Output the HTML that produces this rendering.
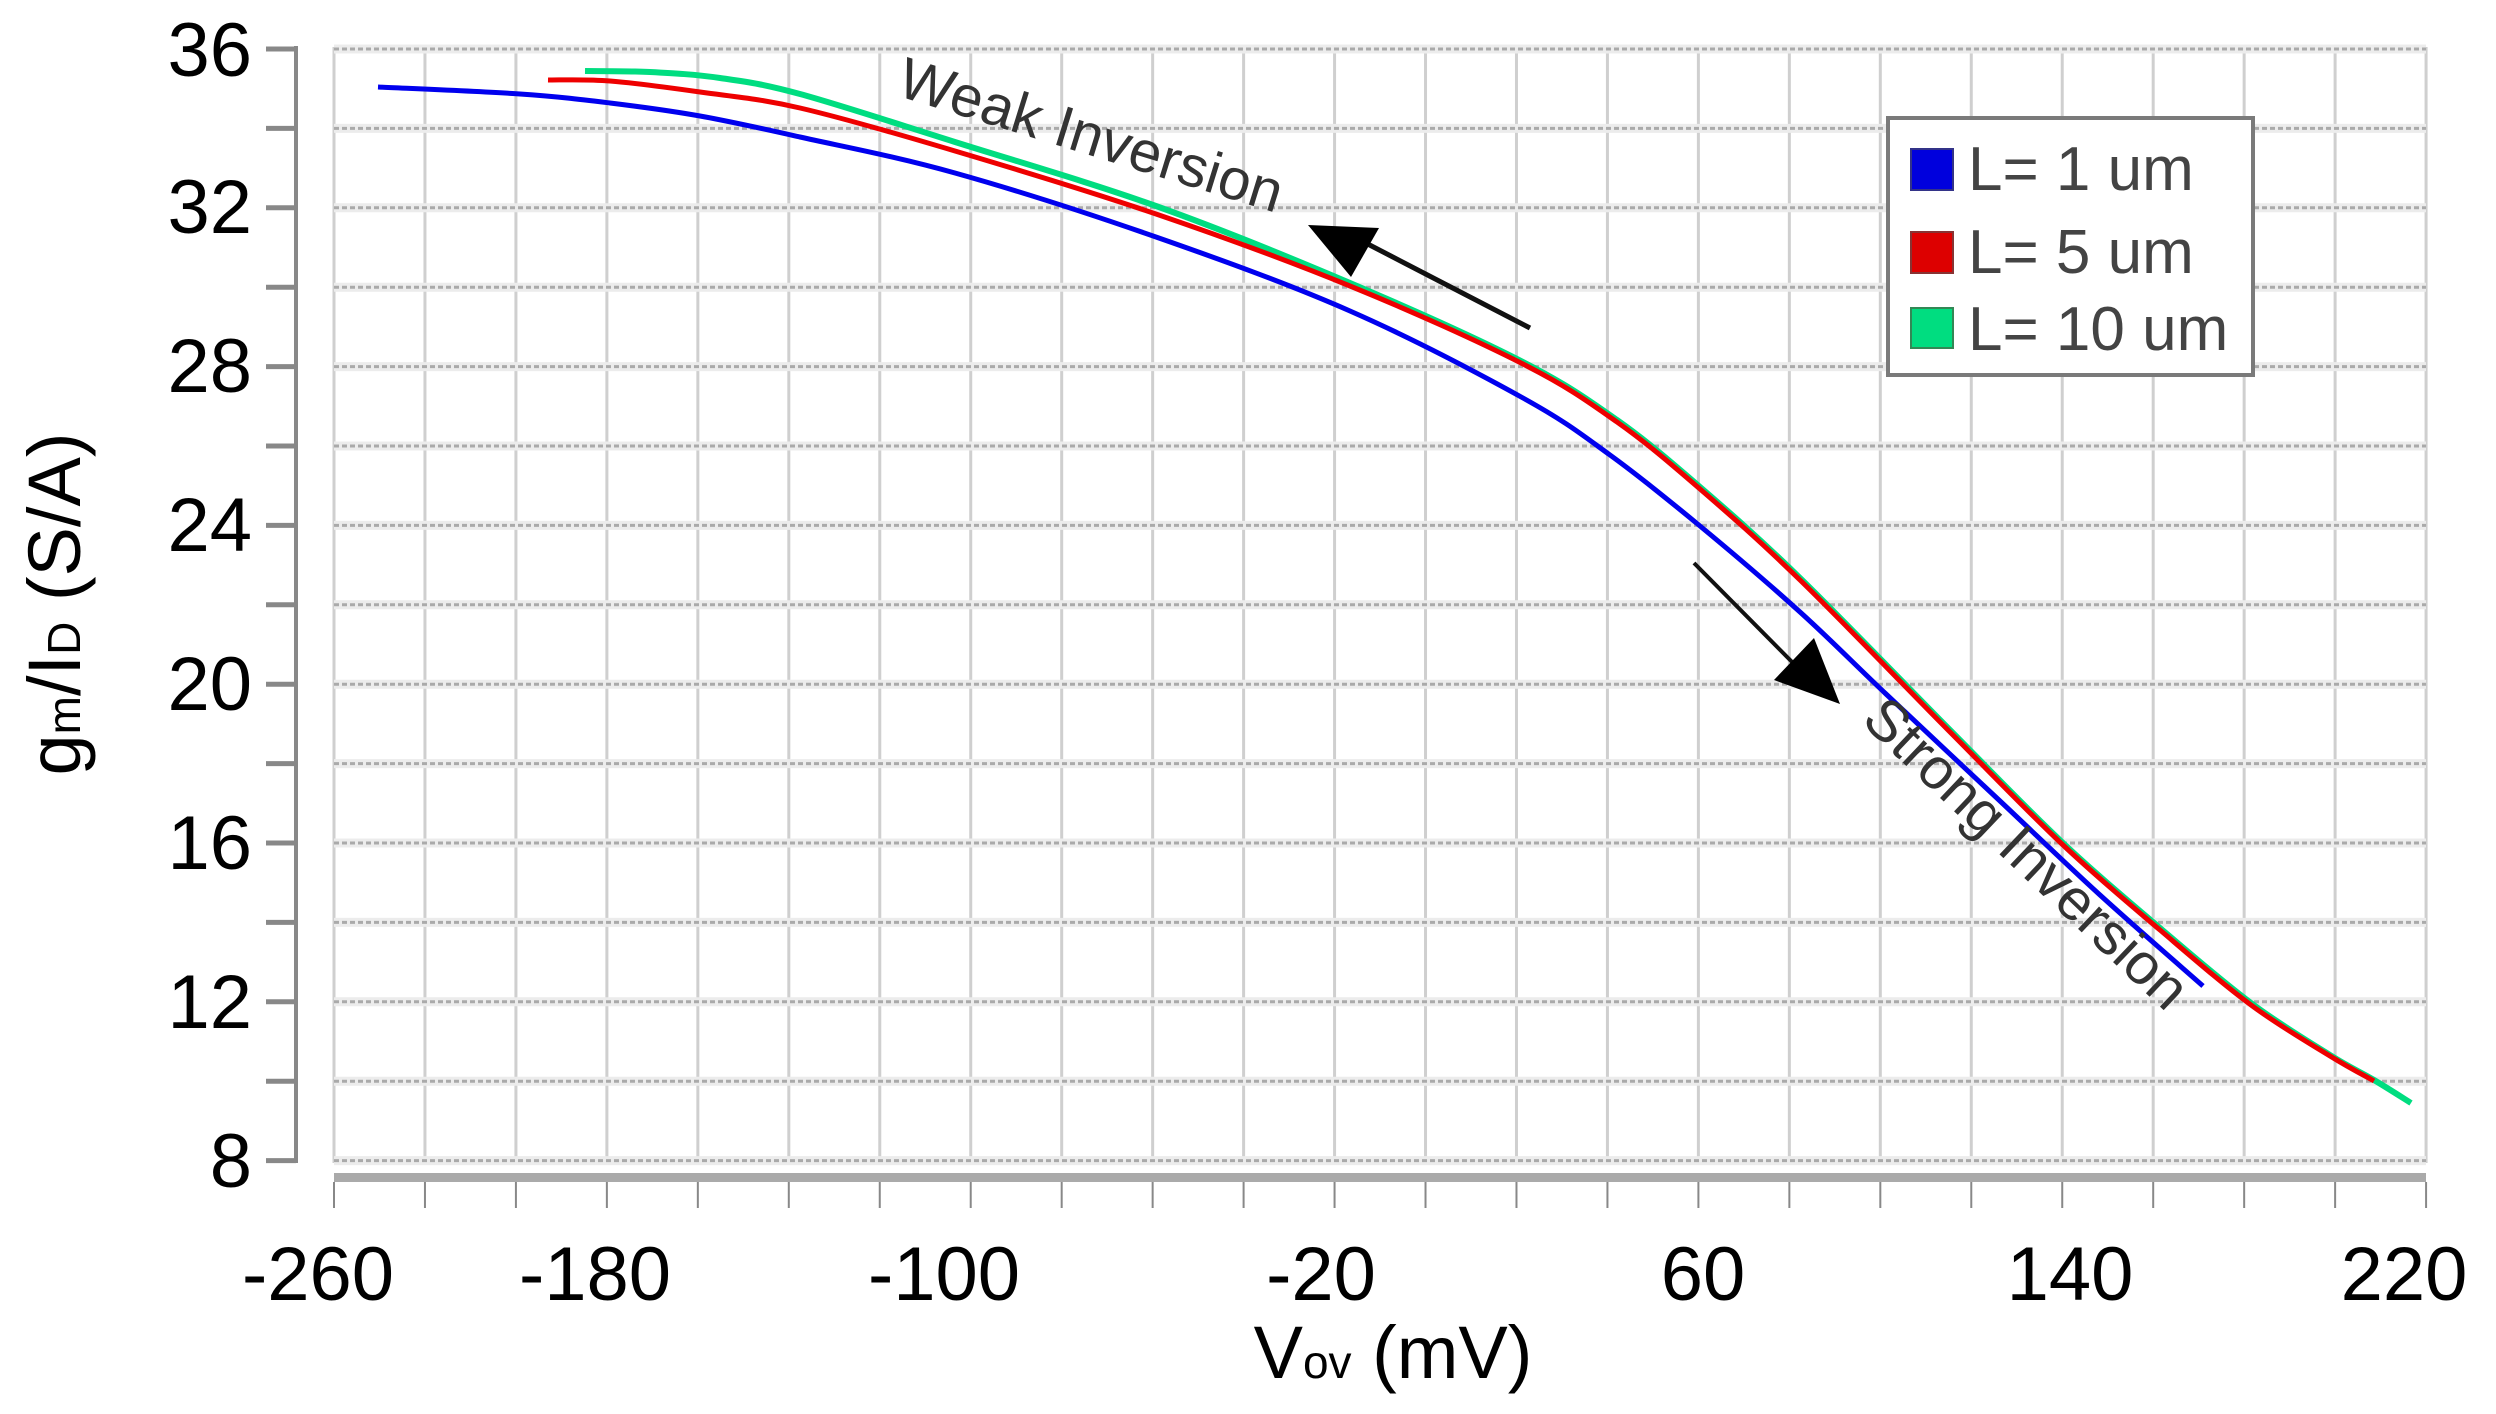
<!DOCTYPE html>
<html><head><meta charset="utf-8"><style>
html,body{margin:0;padding:0;background:#fff;}
svg{display:block;font-family:"Liberation Sans",sans-serif;}
</style></head><body>
<svg id="s" width="2496" height="1414" viewBox="0 0 2496 1414" xmlns="http://www.w3.org/2000/svg">
<rect width="2496" height="1414" fill="#fff"/>
<g id="grid"></g>
<g id="curves" fill="none" stroke-linecap="butt" stroke-linejoin="round"></g>
<line x1="296" y1="46" x2="296" y2="1163" stroke="#888" stroke-width="4"/>
<g id="yt" stroke="#888" stroke-width="5"></g>
<g font-size="76" text-anchor="end" fill="#000">
<text x="252" y="76">36</text><text x="252" y="233">32</text><text x="252" y="392">28</text>
<text x="252" y="551">24</text><text x="252" y="710">20</text><text x="252" y="869">16</text>
<text x="252" y="1028">12</text><text x="252" y="1187">8</text>
</g>
<rect x="334" y="1173" width="2092" height="9" fill="#aaa"/>
<g id="xt" stroke="#888" stroke-width="2"></g>
<g font-size="76" text-anchor="middle" fill="#000">
<text x="318" y="1300">-260</text><text x="595" y="1300">-180</text><text x="944" y="1300">-100</text>
<text x="1321" y="1300">-20</text><text x="1703" y="1300">60</text><text x="2070" y="1300">140</text>
<text x="2404" y="1300">220</text>
</g>
<text x="1393" y="1378" font-size="74" text-anchor="middle">V<tspan font-size="46">ov</tspan> (mV)</text>
<text transform="translate(80,604) rotate(-90)" font-size="74" text-anchor="middle">g<tspan font-size="46">m</tspan>/I<tspan font-size="46">D</tspan> (S/A)</text>
<rect x="1888" y="118" width="365" height="257" fill="#fff" stroke="#7a7a7a" stroke-width="4"/>
<rect x="1911" y="149" width="42" height="41" fill="#0000dd" stroke="#333388" stroke-width="2"/>
<rect x="1911" y="232" width="42" height="41" fill="#dd0000" stroke="#883333" stroke-width="2"/>
<rect x="1911" y="308" width="42" height="40" fill="#00dd80" stroke="#338855" stroke-width="2"/>
<g font-size="62" fill="#444">
<text x="1968" y="190">L= 1 um</text>
<text x="1968" y="273">L= 5 um</text>
<text x="1968" y="350">L= 10 um</text>
</g>
<line x1="1530" y1="328" x2="1360" y2="240" stroke="#111" stroke-width="5"/>
<polygon points="1308,225 1379,228 1351,277" fill="#000"/>
<text transform="translate(895,95) rotate(17.2)" font-size="58" fill="#333">Weak Inversion</text>
<line x1="1694" y1="563" x2="1800" y2="670" stroke="#111" stroke-width="4"/>
<polygon points="1814,638 1774,680 1840,704" fill="#000"/>
<text transform="translate(1860,722) rotate(43.5)" font-size="58" fill="#333">Strong Inversion</text>
</svg>
<script>
var NS="http://www.w3.org/2000/svg";
function el(p,t,a){var e=document.createElementNS(NS,t);for(var k in a)e.setAttribute(k,a[k]);p.appendChild(e);return e;}
var g=document.getElementById("grid");
for(var k=0;k<=23;k++){var x=334+k*90.96;el(g,"line",{x1:x,y1:47,x2:x,y2:1163,stroke:"#cfcfcf","stroke-width":3});
el(document.getElementById("xt"),"line",{x1:x,y1:1182,x2:x,y2:1208});}
for(var v=36;v>=8;v-=2){var y=49+(36-v)*39.7;
el(g,"line",{x1:334,y1:y,x2:2426,y2:y,stroke:"#ececec","stroke-width":9});
el(g,"line",{x1:334,y1:y,x2:2426,y2:y,stroke:"#aaa","stroke-width":3,"stroke-dasharray":"5,3"});
el(document.getElementById("yt"),"line",{x1:266,y1:y,x2:296,y2:y});}
function cr(p){var d="M"+p[0][0]+","+p[0][1];for(var i=0;i<p.length-1;i++){var p0=p[i-1]||p[i],p1=p[i],p2=p[i+1],p3=p[i+2]||p2;
d+=" C"+(p1[0]+(p2[0]-p0[0])/6)+","+(p1[1]+(p2[1]-p0[1])/6)+" "+(p2[0]-(p3[0]-p1[0])/6)+","+(p2[1]-(p3[1]-p1[1])/6)+" "+p2[0]+","+p2[1];}return d;}
var c=document.getElementById("curves");
var green=[[585,71],[650,72],[720,78],[800,94],[955,142],[1156,206],[1350,283],[1523,362],[1617,420],[1700,487],[1800,578],[1950,730],[2063,843],[2160,928],[2251,1003],[2330,1055],[2374,1080],[2411,1103]];
var red=[[548,80],[610,81],[700,92],[800,108],[955,151],[1156,214],[1350,286],[1523,364],[1617,422],[1700,489],[1800,580],[1950,732],[2063,845],[2160,930],[2251,1005],[2330,1056],[2374,1081]];
var blue=[[378,87],[520,94],[610,103],[700,116],[800,137],[955,173],[1156,237],[1350,311],[1523,398],[1610,455],[1700,526],[1800,612],[1886,694],[2000,801],[2100,895],[2203,986]];
el(c,"path",{d:cr(green),stroke:"#00dd80","stroke-width":6});
el(c,"path",{d:cr(red),stroke:"#ee0000","stroke-width":5});
el(c,"path",{d:cr(blue),stroke:"#0000ee","stroke-width":5});
</script>
</body></html>
